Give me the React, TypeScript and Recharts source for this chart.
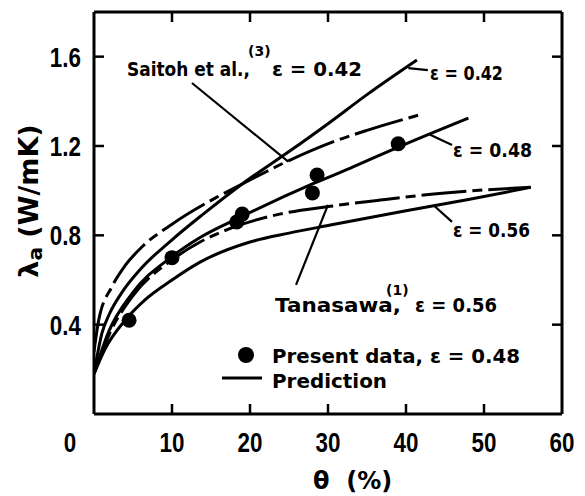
import { ComposedChart, Line, Scatter, XAxis, YAxis, ReferenceLine } from 'recharts';

const xTicks = [0, 10, 20, 30, 40, 50, 60];
const yTicks = [0.4, 0.8, 1.2, 1.6];

// prediction, eps = 0.42
const theta42 = [0, 1, 2, 3.5, 6, 10, 14, 19, 25, 30, 35, 41.4];
const lam42 = [0.18, 0.36, 0.45, 0.54, 0.65, 0.78, 0.895, 1.03, 1.175, 1.3, 1.43, 1.585];

// Saitoh et al., eps = 0.42
const thetaSaitoh = [0, 0.6, 2.3, 4, 6.2, 10, 15.7, 19, 25, 30.3, 35, 41.8];
const lamSaitoh = [0.28, 0.42, 0.57, 0.665, 0.75, 0.85, 0.97, 1.03, 1.135, 1.214, 1.27, 1.34];

// prediction, eps = 0.48
const theta48 = [0, 1.9, 4.9, 10, 13.6, 18.7, 28, 32.8, 39, 48];
const lam48 = [0.18, 0.37, 0.54, 0.705, 0.79, 0.88, 1.03, 1.1, 1.195, 1.325];

// Tanasawa, eps = 0.56
const thetaTana = [0, 2, 5, 10, 13.6, 17.4, 23.8, 30.3, 36.7, 45, 56];
const lamTana = [0.18, 0.36, 0.53, 0.69, 0.77, 0.83, 0.895, 0.93, 0.958, 0.99, 1.015];

// prediction, eps = 0.56
const theta56 = [0, 1.4, 4, 6.5, 10, 13.6, 20, 25, 30.3, 40, 48, 56];
const lam56 = [0.18, 0.29, 0.42, 0.51, 0.6, 0.68, 0.77, 0.81, 0.846, 0.91, 0.96, 1.015];

// present data, eps = 0.48
const thetaData = [4.5, 10, 18.3, 19, 28, 28.6, 39];
const lamData = [0.42, 0.7, 0.86, 0.895, 0.99, 1.07, 1.21];

const pts = (xs: number[], ys: number[]) => xs.map((x, i) => ({ x, y: ys[i] }));

// leader lines from labels to curves
const leaders = [
  [12.56, 1.482, 24.9, 1.13],
  [40.3, 1.549, 42.8, 1.54],
  [43.1, 1.25, 45.9, 1.205],
  [43.5, 0.936, 45.9, 0.86],
  [30, 0.936, 25.9, 0.578],
];

const numFont = { fontFamily: "'Liberation Sans', Arial, sans-serif", fontWeight: 700, fontSize: 28 };
const txtFont = { fontFamily: "'DejaVu Sans', sans-serif", fontWeight: 700, fontSize: 19 };

function BottomTick({ x, y, payload }: any) {
  const v = payload.value;
  const tx = v === 0 ? x - 24 : x;
  return (
    <g>
      {v > 0 && v < 60 && <line x1={x} y1={y} x2={x} y2={y - 10} stroke="#000" strokeWidth={2.5} />}
      <text transform={`translate(${tx},${y + 38}) scale(0.8,1)`} textAnchor="middle" style={numFont} fill="#000">
        {v}
      </text>
    </g>
  );
}

function TopTick({ x, y, payload }: any) {
  const v = payload.value;
  if (v <= 0 || v >= 60) return <g />;
  return <line x1={x} y1={y} x2={x} y2={y + 10} stroke="#000" strokeWidth={2.5} />;
}

function LeftTick({ x, y, payload }: any) {
  return (
    <g>
      <line x1={x} y1={y} x2={x + 10} y2={y} stroke="#000" strokeWidth={2.5} />
      <text transform={`translate(${x - 13},${y + 10}) scale(0.8,1)`} textAnchor="end" style={numFont} fill="#000">
        {payload.value.toFixed(1)}
      </text>
    </g>
  );
}

function RightTick({ x, y }: any) {
  return <line x1={x} y1={y} x2={x - 10} y2={y} stroke="#000" strokeWidth={2.5} />;
}

const dot = (p: any) => <circle cx={p.cx} cy={p.cy} r={7.5} fill="#000" />;

const axisStyle = { stroke: '#000', strokeWidth: 3 };

export default function App() {
  const lineProps = {
    type: 'monotone' as const,
    dataKey: 'y',
    stroke: '#000',
    strokeWidth: 3,
    dot: false,
    activeDot: false,
    isAnimationActive: false,
  };
  return (
    <div style={{ position: 'absolute', left: 0, top: 0, width: 585, height: 496, background: '#fff' }}>
      <ComposedChart width={585} height={496} margin={{ top: 11, right: 22, bottom: 81, left: 93 }}>
        <XAxis
          xAxisId={0}
          type="number"
          dataKey="x"
          domain={[0, 60]}
          ticks={xTicks}
          interval={0}
          height={1}
          tickSize={0}
          tickMargin={0}
          tickLine={false}
          axisLine={axisStyle}
          tick={<BottomTick />}
          allowDataOverflow
        />
        <XAxis
          xAxisId="top"
          orientation="top"
          type="number"
          dataKey="x"
          domain={[0, 60]}
          ticks={xTicks}
          interval={0}
          height={1}
          tickSize={0}
          tickMargin={0}
          tickLine={false}
          axisLine={axisStyle}
          tick={<TopTick />}
          allowDataOverflow
        />
        <YAxis
          yAxisId={0}
          type="number"
          domain={[0, 1.8]}
          ticks={yTicks}
          interval={0}
          width={1}
          tickSize={0}
          tickMargin={0}
          tickLine={false}
          axisLine={axisStyle}
          tick={<LeftTick />}
          allowDataOverflow
        />
        <YAxis
          yAxisId="right"
          orientation="right"
          type="number"
          domain={[0, 1.8]}
          ticks={yTicks}
          interval={0}
          width={1}
          tickSize={0}
          tickMargin={0}
          tickLine={false}
          axisLine={axisStyle}
          tick={<RightTick />}
          allowDataOverflow
        />
        <Line {...lineProps} data={pts(theta42, lam42)} />
        <Line {...lineProps} data={pts(thetaSaitoh, lamSaitoh)} strokeDasharray="50 6 10 6" />
        <Line {...lineProps} data={pts(theta48, lam48)} />
        <Line {...lineProps} data={pts(thetaTana, lamTana)} strokeDasharray="45 6 10 6" />
        <Line {...lineProps} data={pts(theta56, lam56)} />
        <Scatter data={pts(thetaData, lamData)} dataKey="y" shape={dot} isAnimationActive={false} />
        {leaders.map((l, i) => (
          <ReferenceLine
            key={i}
            segment={[{ x: l[0], y: l[1] }, { x: l[2], y: l[3] }]}
            stroke="#000"
            strokeWidth={2.2}
            ifOverflow="visible"
          />
        ))}
      </ComposedChart>
      <svg width={585} height={496} style={{ position: 'absolute', left: 0, top: 0, pointerEvents: 'none' }}>
        <g style={txtFont} fill="#000">
          <text x={127} y={76} textLength={123} lengthAdjust="spacingAndGlyphs">Saitoh et al.,</text>
          <text x={248} y={56} fontSize={14}>(3)</text>
          <text x={272} y={76} textLength={90} lengthAdjust="spacingAndGlyphs">ε = 0.42</text>
          <text x={430} y={80} textLength={73} lengthAdjust="spacingAndGlyphs">ε = 0.42</text>
          <text x={453} y={157} textLength={79} lengthAdjust="spacingAndGlyphs">ε = 0.48</text>
          <text x={453} y={237} textLength={77} lengthAdjust="spacingAndGlyphs">ε = 0.56</text>
          <text x={275} y={312} textLength={126} lengthAdjust="spacingAndGlyphs">Tanasawa,</text>
          <text x={386} y={295} fontSize={14}>(1)</text>
          <text x={415} y={312} textLength={82} lengthAdjust="spacingAndGlyphs">ε = 0.56</text>
          <text x={272} y={363} textLength={248} lengthAdjust="spacingAndGlyphs">Present data, ε = 0.48</text>
          <text x={272} y={388} textLength={115} lengthAdjust="spacingAndGlyphs">Prediction</text>
        </g>
        <circle cx={246} cy={355} r={8} fill="#000" />
        <line x1={222} y1={378} x2={262} y2={378} stroke="#000" strokeWidth={3} />
        <text
          transform="translate(38,201) rotate(-90)"
          textAnchor="middle"
          style={{ fontFamily: "'DejaVu Sans', sans-serif", fontWeight: 700, fontSize: 27 }}
          fill="#000"
        >
          λ<tspan fontSize={20} dy={4}>a</tspan>
          <tspan dy={-4}>{'  (W/mK)'}</tspan>
        </text>
        <text
          x={313}
          y={489}
          style={{ fontFamily: "'DejaVu Sans', sans-serif", fontWeight: 700, fontSize: 24 }}
          fill="#000"
          xmlSpace="preserve"
        >
          {'θ  (%)'}
        </text>
      </svg>
    </div>
  );
}
